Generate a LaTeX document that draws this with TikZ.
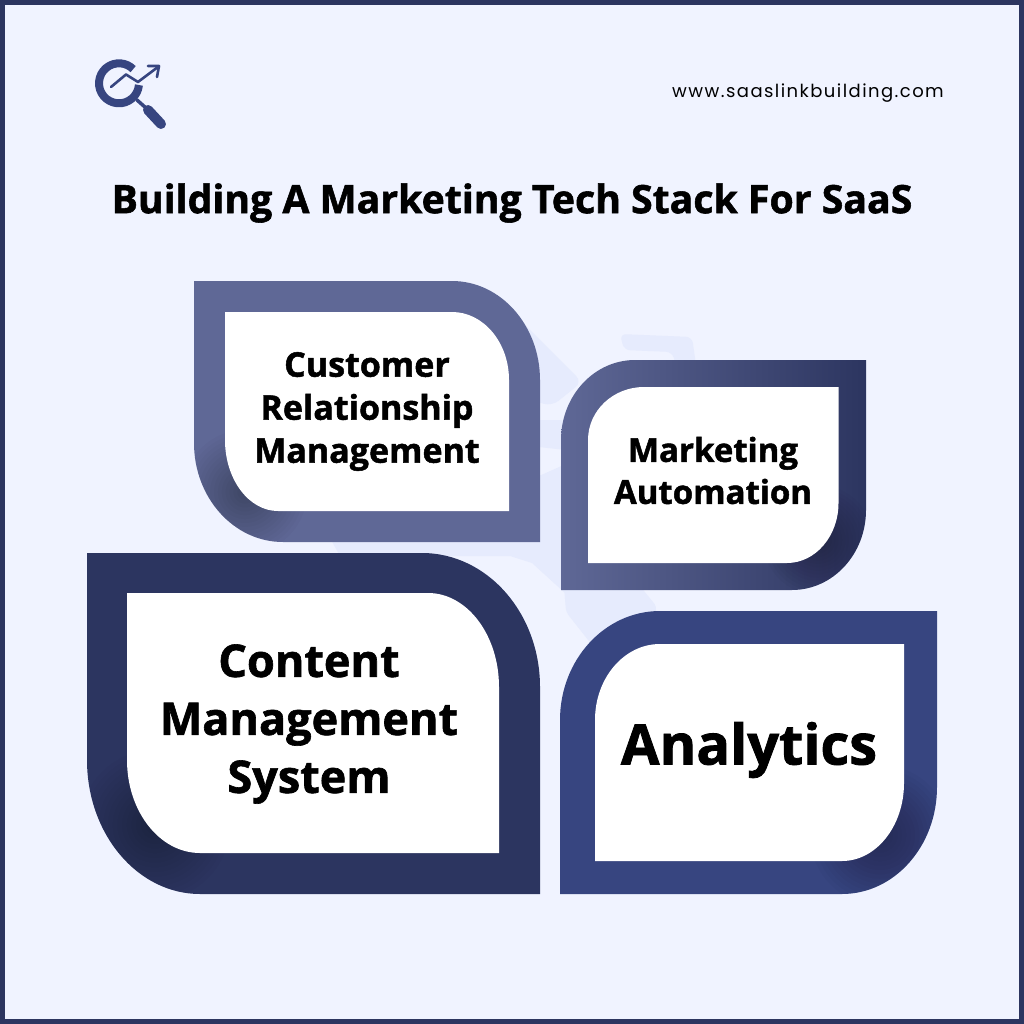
\documentclass[tikz,border=0pt]{standalone}
\usepackage{fontspec}
\setmainfont{Open Sans}[BoldFeatures={FakeBold=1.4}]
\newfontfamily\popfont{Poppins}
\definecolor{pagebg}{HTML}{F0F3FF}
\definecolor{navy}{HTML}{2C3560}
\definecolor{slate}{HTML}{5F6896}
\definecolor{indigo}{HTML}{374580}
\definecolor{ghost}{HTML}{E6EBFD}
% round top-right and bottom-left
\newcommand{\leafone}[8]{(#1,#2) -- ({#3-#5},#2) arc[start angle=270,end angle=360,x radius=#5,y radius=#6] -- (#3,#4) -- ({#1+#7},#4) arc[start angle=90,end angle=180,x radius=#7,y radius=#8] -- cycle}
% round top-left and bottom-right
\newcommand{\leaftwo}[8]{({#1+#5},#2) -- (#3,#2) -- (#3,{#4-#8}) arc[start angle=0,end angle=90,x radius=#7,y radius=#8] -- (#1,#4) -- (#1,{#2+#6}) arc[start angle=180,end angle=270,x radius=#5,y radius=#6] -- cycle}
\newcommand{\softshadow}[3]{\foreach \r in {1,...,16}{\fill[black,opacity=.02] (#1,#2) circle ({#3*\r/16});}}
\tikzset{
  ghostshape/.style={fill=ghost,draw=none},
  inner leaf/.style={fill=white,draw=none},
  boxlabel/.style={align=center,font=\bfseries\fontsize{#1}{#1}\selectfont,text=black,inner sep=0pt},
  logoink/.style={draw=indigo,line cap=round,line join=round}
}
\begin{document}
\begin{tikzpicture}[x=1pt,y=-1pt]
\useasboundingbox (0,0) rectangle (1024,1024);
\fill[pagebg] (0,0) rectangle (1024,1024);
\draw[navy,line width=5pt] (2.5,2.5) rectangle (1021.5,1021.5);
% faint watermark
\fill[ghostshape,rounded corners=6pt] (620,334) -- (692,337) -- (696,365) -- (676,365) -- (672,352) -- (624,350) -- cycle;
\fill[ghostshape,rounded corners=8pt] (515,315) -- (582,382) -- (552,406) -- (530,400) -- cycle;
\fill[ghostshape,rounded corners=6pt] (530,420) -- (566,420) -- (566,450) -- (530,446) -- cycle;
\fill[ghostshape] (330,538) -- (530,538) -- (530,480) -- (566,464) -- (566,594) -- (532,563) -- (510,556) -- (340,556) -- cycle;
\fill[ghostshape,rounded corners=4pt] (564,586) -- (640,586) -- (657,607) -- (650,630) -- (592,645) -- (566,612) -- cycle;
% Customer Relationship Management
\fill[slate] \leafone{194}{281}{540}{542}{88}{99}{89}{99};
\begin{scope}
\clip \leafone{194}{281}{540}{542}{88}{99}{89}{99};
\softshadow{245}{492}{62}
\end{scope}
\fill[inner leaf] \leafone{225}{312}{509}{511}{57}{68}{53}{71};
% Marketing Automation
\shade[left color=slate,right color=navy] \leaftwo{561}{360}{866}{590}{74}{80}{74}{80};
\begin{scope}
\clip \leaftwo{561}{360}{866}{590}{74}{80}{74}{80};
\softshadow{818}{540}{55}
\end{scope}
\fill[inner leaf] \leaftwo{588}{387}{838.5}{563}{56}{53}{51.5}{60};
% Content Management System
\fill[navy] \leafone{87}{553}{540}{894}{118}{134}{113}{134};
\begin{scope}
\clip \leafone{87}{553}{540}{894}{118}{134}{113}{134};
\softshadow{155}{825}{75}
\end{scope}
\fill[inner leaf] \leafone{127}{593}{499}{853}{71}{94}{73}{93};
% Analytics
\fill[indigo] \leaftwo{560}{611}{937}{894}{100}{109}{95}{107};
\begin{scope}
\clip \leaftwo{560}{611}{937}{894}{100}{109}{95}{107};
\softshadow{880}{835}{70}
\end{scope}
\fill[inner leaf] \leaftwo{595}{644}{904}{861}{65}{76}{62}{78};
% logo
\draw[logoink,line width=8pt,line cap=butt] (119,83.3) ++(5:20) arc[start angle=5,end angle=315,radius=20];
\draw[logoink,line width=2.6pt] (111,87) -- (126,74.5) -- (138,82) -- (158,67);
\draw[logoink,line width=2.6pt] (148,66) -- (159,66) -- (157,77);
\draw[logoink,line width=3.5pt] (137,100) -- (146,108);
\draw[logoink,line width=10pt] (148,110) -- (161,124);
% texts
\node[inner sep=0pt,font=\popfont\fontsize{18}{20}\selectfont,text=black] (url) at (808,93) {\addfontfeature{LetterSpace=8}www.saaslinkbuilding.com};
\node[inner sep=0pt,font=\bfseries\fontsize{39.2}{42}\selectfont,text=black] (title) at (512,203) {Building A Marketing Tech Stack For SaaS};
\node[boxlabel=34] (crm) at (367,411.5) {Customer\\[9pt]Relationship\\[9pt]Management};
\node[boxlabel=33] (ma) at (713,470.5) {Marketing\\[9pt]Automation};
\node[boxlabel=45] (cms) at (309,724) {Content\\[13pt]Management\\[13pt]System};
\node[boxlabel=56] (an) at (749,750) {Analytics};
\end{tikzpicture}
\end{document}
